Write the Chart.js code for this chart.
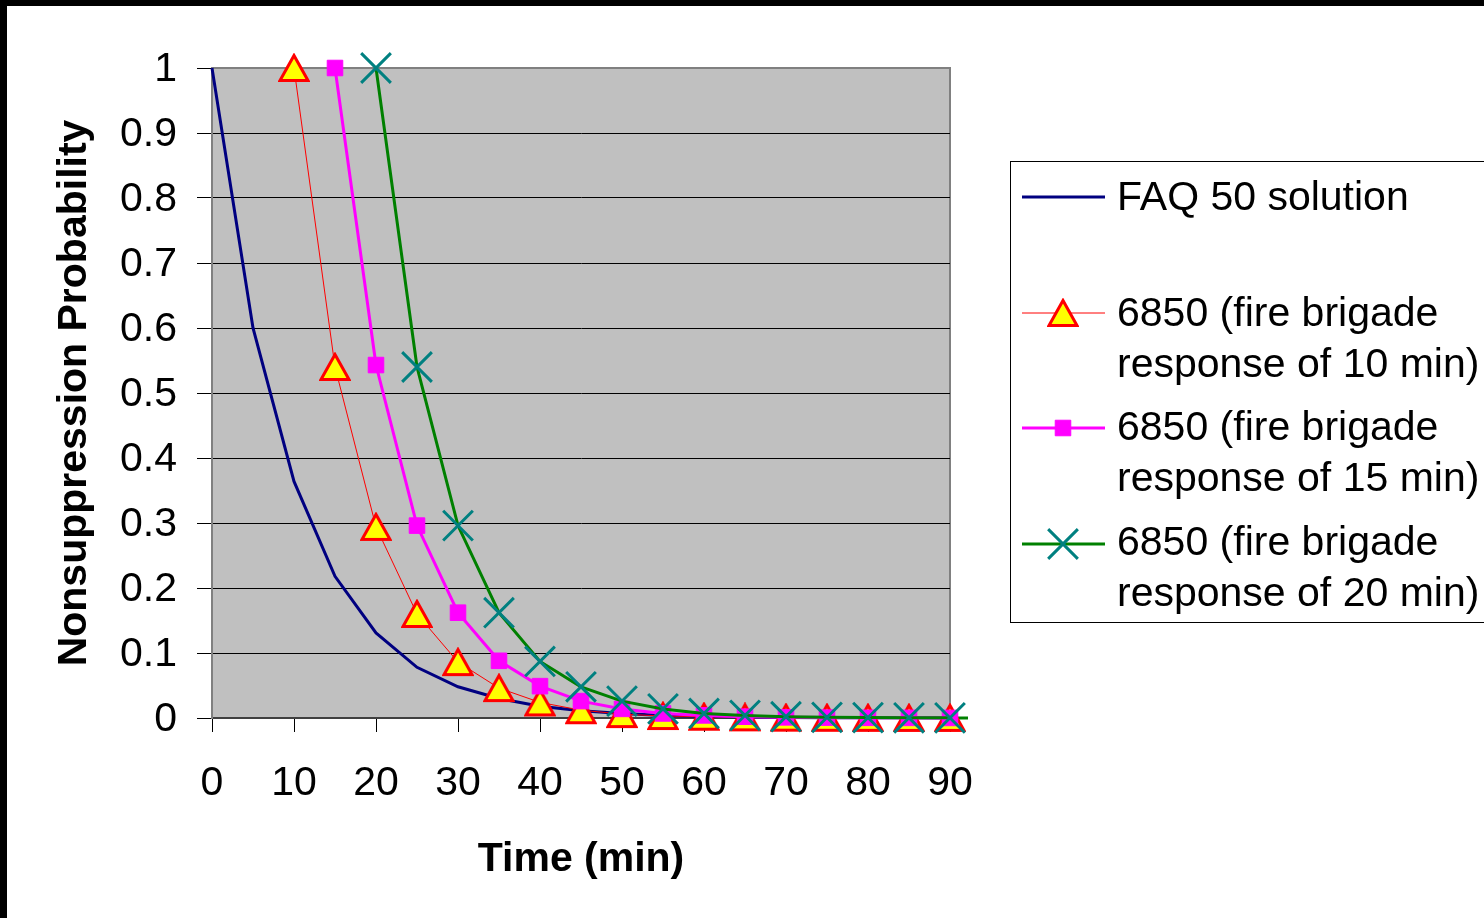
<!DOCTYPE html>
<html>
<head>
<meta charset="utf-8">
<script src="https://cdn.jsdelivr.net/npm/chart.js@4/dist/chart.umd.min.js"></script>
<style>
  html, body { margin: 0; padding: 0; background: #fff; }
  #wrap { width: 1484px; height: 918px; position: relative; }
</style>
</head>
<body>
<div id="wrap"><canvas id="prob-chart" width="1484" height="918"></canvas></div>
<script>
  // times (min) and probabilities
  const faqTimes = [0, 5, 10, 15, 20, 25, 30, 35, 40, 45, 50, 55, 60, 65, 70, 75, 80, 85, 90];
  const faqValues = [1, 0.6, 0.364, 0.218, 0.131, 0.078, 0.048, 0.03, 0.018, 0.011, 0.007, 0.004, 0.0025, 0.0015, 0.0009, 0.0005, 0.0003, 0.0002, 0.0001];

  const resp10Times = [10, 15, 20, 25, 30, 35, 40, 45, 50, 55, 60, 65, 70, 75, 80, 85, 90];
  const resp10Values = [1, 0.54, 0.294, 0.16, 0.086, 0.046, 0.024, 0.012, 0.006, 0.003, 0.002, 0.001, 0.0005, 0.0003, 0.0002, 0.0001, 0.0001];

  const resp15Times = [15, 20, 25, 30, 35, 40, 45, 50, 55, 60, 65, 70, 75, 80, 85, 90];
  const resp15Values = [1, 0.543, 0.296, 0.162, 0.088, 0.049, 0.026, 0.014, 0.007, 0.004, 0.002, 0.001, 0.0006, 0.0003, 0.0002, 0.0001];

  const resp20Times = [20, 25, 30, 35, 40, 45, 50, 55, 60, 65, 70, 75, 80, 85, 90];
  const resp20Values = [1, 0.54, 0.296, 0.162, 0.087, 0.048, 0.026, 0.014, 0.007, 0.004, 0.002, 0.001, 0.0006, 0.0003, 0.0002];

  const xTicks = [0, 10, 20, 30, 40, 50, 60, 70, 80, 90];
  const yTicks = [0, 0.1, 0.2, 0.3, 0.4, 0.5, 0.6, 0.7, 0.8, 0.9, 1];

  const legendLabels = [
    ['FAQ 50 solution'],
    ['6850 (fire brigade', 'response of 10 min)'],
    ['6850 (fire brigade', 'response of 15 min)'],
    ['6850 (fire brigade', 'response of 20 min)']
  ];

  function toPoints(times, values) {
    return times.map((t, i) => ({ x: t, y: values[i] }));
  }

  const FONT = "'Liberation Sans', Arial, sans-serif";

  // yellow triangle with red edge, centred on its box like the original marker
  function makeTriangle() {
    const c = document.createElement('canvas');
    c.width = 32;
    c.height = 30;
    const t = c.getContext('2d');
    t.beginPath();
    t.moveTo(16, 2.5);
    t.lineTo(30, 27.5);
    t.lineTo(2, 27.5);
    t.closePath();
    t.fillStyle = '#ffff00';
    t.fill();
    t.lineWidth = 3;
    t.strokeStyle = '#ff0000';
    t.stroke();
    return c;
  }
  const triangleMarker = makeTriangle();

  // gray plot area, frame and black edges of the slide
  const backgroundPlugin = {
    id: 'plotBackground',
    beforeDraw(chart) {
      const ctx = chart.ctx;
      const a = chart.chartArea;
      ctx.save();
      ctx.fillStyle = '#000';
      ctx.fillRect(0, 0, chart.width, 6);
      ctx.fillRect(0, 0, 7, chart.height);
      ctx.fillStyle = '#c0c0c0';
      ctx.fillRect(a.left, a.top, a.right - a.left, a.bottom - a.top);
      ctx.strokeStyle = '#808080';
      ctx.lineWidth = 2;
      ctx.beginPath();
      ctx.moveTo(a.left, a.top);
      ctx.lineTo(a.right, a.top);
      ctx.lineTo(a.right, a.bottom);
      ctx.stroke();
      ctx.restore();
    },
    beforeDatasetsDraw(chart) {
      // axis line runs a bit past the plot on the right
      const ctx = chart.ctx;
      const a = chart.chartArea;
      ctx.save();
      ctx.strokeStyle = '#008000';
      ctx.lineWidth = 3;
      ctx.beginPath();
      ctx.moveTo(a.right - 2, a.bottom);
      ctx.lineTo(a.right + 18, a.bottom);
      ctx.stroke();
      ctx.restore();
    }
  };

  // legend box with two-line labels
  const legendPlugin = {
    id: 'boxLegend',
    afterDraw(chart) {
      const ctx = chart.ctx;
      ctx.save();
      ctx.fillStyle = '#fff';
      ctx.fillRect(1010, 161, 480, 461);
      ctx.strokeStyle = '#000';
      ctx.lineWidth = 1;
      ctx.strokeRect(1010.5, 161.5, 480, 461);

      const sampleY = [197, 313, 428, 544];
      const textY = [[199], [315, 366], [429, 480], [544, 595]];
      chart.data.datasets.forEach((ds, i) => {
        const y = sampleY[i];
        ctx.strokeStyle = ds.borderColor;
        ctx.lineWidth = ds.borderWidth;
        ctx.beginPath();
        ctx.moveTo(1022, y);
        ctx.lineTo(1105, y);
        ctx.stroke();
        if (ds.pointRadius > 0) {
          ctx.fillStyle = ds.pointBackgroundColor;
          ctx.strokeStyle = ds.pointBorderColor;
          ctx.lineWidth = ds.pointBorderWidth;
          Chart.helpers.drawPoint(ctx, {
            pointStyle: ds.pointStyle,
            radius: ds.pointRadius,
            rotation: 0,
            borderWidth: ds.pointBorderWidth
          }, 1063, y);
        }
        ctx.fillStyle = '#000';
        ctx.font = '41px ' + FONT;
        ctx.textBaseline = 'middle';
        ctx.textAlign = 'left';
        legendLabels[i].forEach((line, j) => {
          ctx.fillText(line, 1117, textY[i][j]);
        });
      });
      ctx.restore();
    }
  };

  document.addEventListener('DOMContentLoaded', function () {
    const ctx = document.getElementById('prob-chart').getContext('2d');
    new Chart(ctx, {
      type: 'scatter',
      data: {
        datasets: [{
          label: legendLabels[0].join(' '),
          data: toPoints(faqTimes, faqValues),
          showLine: true,
          borderColor: '#000080',
          borderWidth: 3,
          pointRadius: 0,
          pointHoverRadius: 0,
          order: 4
        }, {
          label: legendLabels[1].join(' '),
          data: toPoints(resp10Times, resp10Values),
          showLine: true,
          borderColor: '#ff0000',
          borderWidth: 1,
          pointStyle: triangleMarker,
          pointRadius: 15,
          pointBackgroundColor: '#ffff00',
          pointBorderColor: '#ff0000',
          pointBorderWidth: 3,
          order: 3
        }, {
          label: legendLabels[2].join(' '),
          data: toPoints(resp15Times, resp15Values),
          showLine: true,
          borderColor: '#ff00ff',
          borderWidth: 3,
          pointStyle: 'rect',
          pointRadius: 11,
          pointBackgroundColor: '#ff00ff',
          pointBorderColor: '#ff00ff',
          pointBorderWidth: 1,
          order: 2
        }, {
          label: legendLabels[3].join(' '),
          data: toPoints(resp20Times, resp20Values),
          showLine: true,
          borderColor: '#008000',
          borderWidth: 3,
          pointStyle: 'crossRot',
          pointRadius: 21,
          pointBackgroundColor: '#008080',
          pointBorderColor: '#008080',
          pointBorderWidth: 3,
          order: 1
        }]
      },
      options: {
        responsive: false,
        animation: false,
        clip: false,
        elements: { line: { tension: 0 } },
        layout: { padding: { left: 0, top: 68, right: 534, bottom: 0 } },
        plugins: {
          legend: { display: false },
          tooltip: { enabled: false }
        },
        scales: {
          x: {
            type: 'linear',
            min: 0,
            max: 90,
            afterFit(scale) { scale.height = 200; },
            afterBuildTicks(scale) { scale.ticks = xTicks.map(v => ({ value: v })); },
            ticks: {
              color: '#000',
              padding: 27,
              maxRotation: 0,
              font: { family: FONT, size: 41 }
            },
            grid: {
              drawOnChartArea: false,
              drawTicks: true,
              tickLength: 14,
              tickColor: '#000',
              tickWidth: 1
            },
            border: { color: '#404040', width: 2 },
            title: {
              display: true,
              text: 'Time (min)',
              color: '#000',
              font: { family: FONT, size: 41, weight: 'bold' },
              padding: { top: 0, bottom: 34 }
            }
          },
          y: {
            type: 'linear',
            min: 0,
            max: 1,
            afterFit(scale) { scale.width = 212; },
            afterBuildTicks(scale) { scale.ticks = yTicks.map(v => ({ value: v })); },
            ticks: {
              color: '#000',
              padding: 20,
              labelOffset: 2,
              font: { family: FONT, size: 41 },
              callback: v => String(Number(v.toFixed(1)))
            },
            grid: {
              color: c => (c.tick && (c.tick.value === 1 || c.tick.value === 0)) ? 'rgba(0,0,0,0)' : '#000',
              lineWidth: 1,
              drawTicks: true,
              tickLength: 15,
              tickColor: '#000',
              tickWidth: 1
            },
            border: { color: '#808080', width: 2 },
            title: {
              display: true,
              text: 'Nonsuppression Probability',
              color: '#000',
              font: { family: FONT, size: 41, weight: 'bold' },
              padding: { top: 50, bottom: 0 }
            }
          }
        }
      },
      plugins: [backgroundPlugin, legendPlugin]
    });
  });
</script>
</body>
</html>
